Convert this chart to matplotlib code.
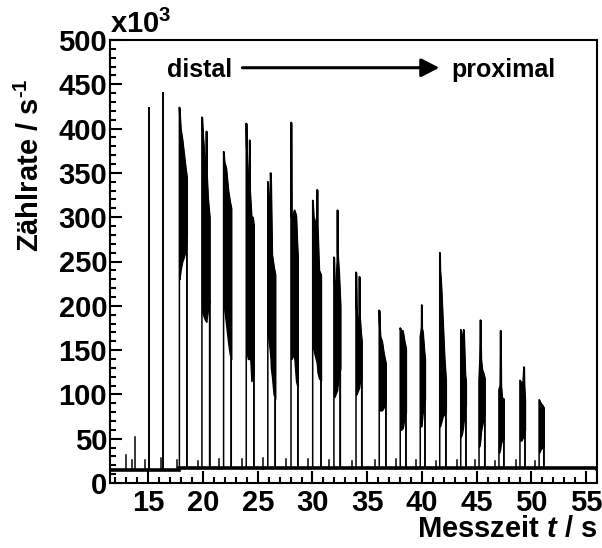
import matplotlib
matplotlib.use('Agg')
import matplotlib.pyplot as plt
from matplotlib.ticker import MultipleLocator

plt.rcParams['font.family'] = ['Liberation Sans', 'DejaVu Sans']
plt.rcParams['font.weight'] = 'bold'
plt.rcParams['mathtext.fontset'] = 'custom'
plt.rcParams['mathtext.rm'] = 'Liberation Sans:bold'
plt.rcParams['mathtext.bf'] = 'Liberation Sans:bold'
plt.rcParams['mathtext.it'] = 'Liberation Sans:italic:bold'

# ---------------- data (counts in 10^3 / s) -------------
# baseline level (step)
base_t = [11.5, 17.82, 56.0]
base_v = [14.5, 17.0, 16.0]

# isolated thin spikes (first two pulses)
spike_t = [15.02, 16.38]
spike_v = [423, 440]

# small blips on the baseline
blip_t = [12.96, 13.48, 13.78, 14.69, 16.12, 17.58, 19.55, 21.5, 23.55, 25.5,
          27.6, 29.62, 31.55, 33.6, 35.7, 37.6, 39.45, 41.25, 43.2, 44.85,
          46.65, 48.6, 50.35]
blip_v = [32, 26, 52, 26, 28, 26, 25, 27, 27, 28, 27, 27, 26, 25, 26, 27, 26,
          25, 26, 26, 25, 26, 25]

# bursts: time knots, upper envelope, lower envelope
burst_t = [
    [17.84, 17.95, 18.1, 18.25, 18.4, 18.52],
    [19.9, 19.93, 20.0, 20.15, 20.29, 20.31, 20.33, 20.45, 20.6],
    [21.88, 21.95, 22.1, 22.3, 22.45, 22.58],
    [23.95, 23.98, 24.1, 24.24, 24.26, 24.28, 24.42, 24.55, 24.64],
    [25.92, 26.0, 26.1, 26.17, 26.2, 26.3, 26.45, 26.6],
    [28.04, 28.06, 28.08, 28.2, 28.35, 28.5, 28.6, 28.66],
    [30.02, 30.1, 30.2, 30.4, 30.43, 30.46, 30.6, 30.78],
    [31.96, 32.0, 32.1, 32.26, 32.28, 32.3, 32.42, 32.55],
    [33.98, 34.02, 34.12, 34.27, 34.29, 34.31, 34.42, 34.5],
    [36.1, 36.13, 36.2, 36.35, 36.5, 36.7],
    [38.02, 38.1, 38.24, 38.3, 38.4, 38.54],
    [39.85, 39.96, 39.98, 40.0, 40.08, 40.2, 40.28],
    [41.63, 41.66, 41.75, 41.9, 42.05, 42.19],
    [43.55, 43.65, 43.75, 43.82, 43.95, 44.02],
    [45.22, 45.3, 45.35, 45.4, 45.5, 45.62, 45.74],
    [47.04, 47.15, 47.19, 47.23, 47.32, 47.48],
    [48.96, 49.1, 49.25, 49.32, 49.35, 49.42],
    [50.71, 50.85, 51.0, 51.14],
]
burst_hi = [
    [424, 400, 388, 372, 356, 345],
    [413, 405, 390, 365, 350, 397, 350, 320, 300],
    [374, 362, 356, 330, 318, 310],
    [406, 380, 346, 340, 387, 330, 300, 300, 290],
    [340, 320, 300, 350, 340, 258, 245, 235],
    [407, 407, 300, 300, 308, 302, 270, 255],
    [319, 300, 290, 300, 331, 290, 240, 235],
    [255, 230, 215, 250, 308, 260, 237, 200],
    [238, 200, 175, 190, 233, 190, 170, 160],
    [195, 180, 165, 160, 147, 135],
    [175, 170, 172, 168, 160, 152],
    [165, 175, 201, 175, 170, 150, 140],
    [260, 240, 225, 184, 142, 116],
    [173, 160, 168, 173, 122, 115],
    [116, 140, 184, 140, 128, 124, 118],
    [105, 110, 172, 110, 96, 95],
    [116, 112, 115, 131, 110, 95],
    [94, 90, 88, 85],
]
burst_lo = [
    [230, 240, 250, 255, 262, 280],
    [195, 192, 190, 185, 182, 182, 185, 195, 205],
    [205, 195, 180, 158, 145, 140],
    [150, 148, 140, 140, 150, 150, 115, 120, 125],
    [168, 160, 150, 140, 130, 120, 100, 95],
    [140, 140, 140, 145, 140, 115, 110, 110],
    [155, 150, 145, 135, 130, 125, 118, 116],
    [97, 97, 100, 105, 108, 110, 120, 130],
    [100, 100, 103, 108, 110, 112, 116, 118],
    [82, 82, 82, 82, 85, 90],
    [60, 60, 62, 65, 75, 80],
    [64, 64, 66, 70, 80, 90, 95],
    [64, 64, 68, 75, 78, 80],
    [52, 55, 62, 70, 85, 88],
    [41, 45, 50, 58, 65, 72, 80],
    [34, 38, 42, 45, 48, 50],
    [48, 48, 52, 55, 58, 60],
    [34, 38, 40, 40],
]

xticks = [15, 20, 25, 30, 35, 40, 45, 50, 55]
yticks = [0, 50, 100, 150, 200, 250, 300, 350, 400, 450, 500]

# ---------------- figure ----------------
W, H = 602, 548
fig = plt.figure(figsize=(W / 100, H / 100), dpi=100)
ax = fig.add_axes([110 / W, 1 - 483 / H, (597 - 110) / W, (483 - 40) / H])

lw = 1.1
ax.step(base_t, base_v, where='post', color='k', lw=2.6, solid_joinstyle='miter')
for t, v in zip(blip_t, blip_v):
    ax.plot([t, t], [16, v], color='k', lw=lw)
for t, v in zip(spike_t, spike_v):
    ax.plot([t, t], [15, v], color='k', lw=1.4)

for t, hi, lo in zip(burst_t, burst_hi, burst_lo):
    ax.fill_between(t, lo, hi, color='k', lw=1.0, edgecolor='k')
    xs = [t[0]] + list(t) + [t[-1]]
    ys = [17] + list(hi) + [17]
    ax.plot(xs, ys, color='k', lw=lw)
    ax.plot([t[-1], t[-1]], [lo[-1], 17], color='k', lw=lw)

ax.set_xlim(11.5, 56)
ax.set_ylim(0, 500)
ax.set_xticks(xticks)
ax.set_yticks(yticks)
ax.xaxis.set_minor_locator(MultipleLocator(1))
ax.yaxis.set_minor_locator(MultipleLocator(10))
ax.tick_params(which='both', direction='in', width=1.5, labelsize=21,
               top=False, right=False)
ax.tick_params(which='major', length=8.5)
ax.tick_params(which='minor', length=4.3)
ax.tick_params(axis='y', pad=2)
ax.tick_params(axis='x', pad=4)
for s in ax.spines.values():
    s.set_linewidth(1.5)

# labels
fig.text(30 / W, 1 - 252 / H, r'Zählrate / s$^{\text{-1}}$', rotation=90,
         ha='center', va='bottom', fontsize=21, fontweight='bold')
fig.text(597 / W, 1 - 529 / H, r'Messzeit $t$ / s', ha='right', va='center',
         fontsize=21, fontweight='bold')
fig.text(110 / W, 1 - 33 / H, r'x10$^{3}$', ha='left', va='baseline',
         fontsize=21, fontweight='bold')

# annotation
ax.text(16.67, 458.6, 'distal', ha='left', va='baseline', fontsize=18,
        fontweight='bold')
ax.text(42.65, 458.6, 'proximal', ha='left', va='baseline', fontsize=18,
        fontweight='bold')
ax.annotate('', xy=(41.6, 468.7), xytext=(23.6, 468.7),
            arrowprops=dict(arrowstyle='-|>,head_length=0.55,head_width=0.28',
                            color='k', lw=2.2, shrinkA=0, shrinkB=0,
                            mutation_scale=20))

fig.savefig('out.png', dpi=100)
